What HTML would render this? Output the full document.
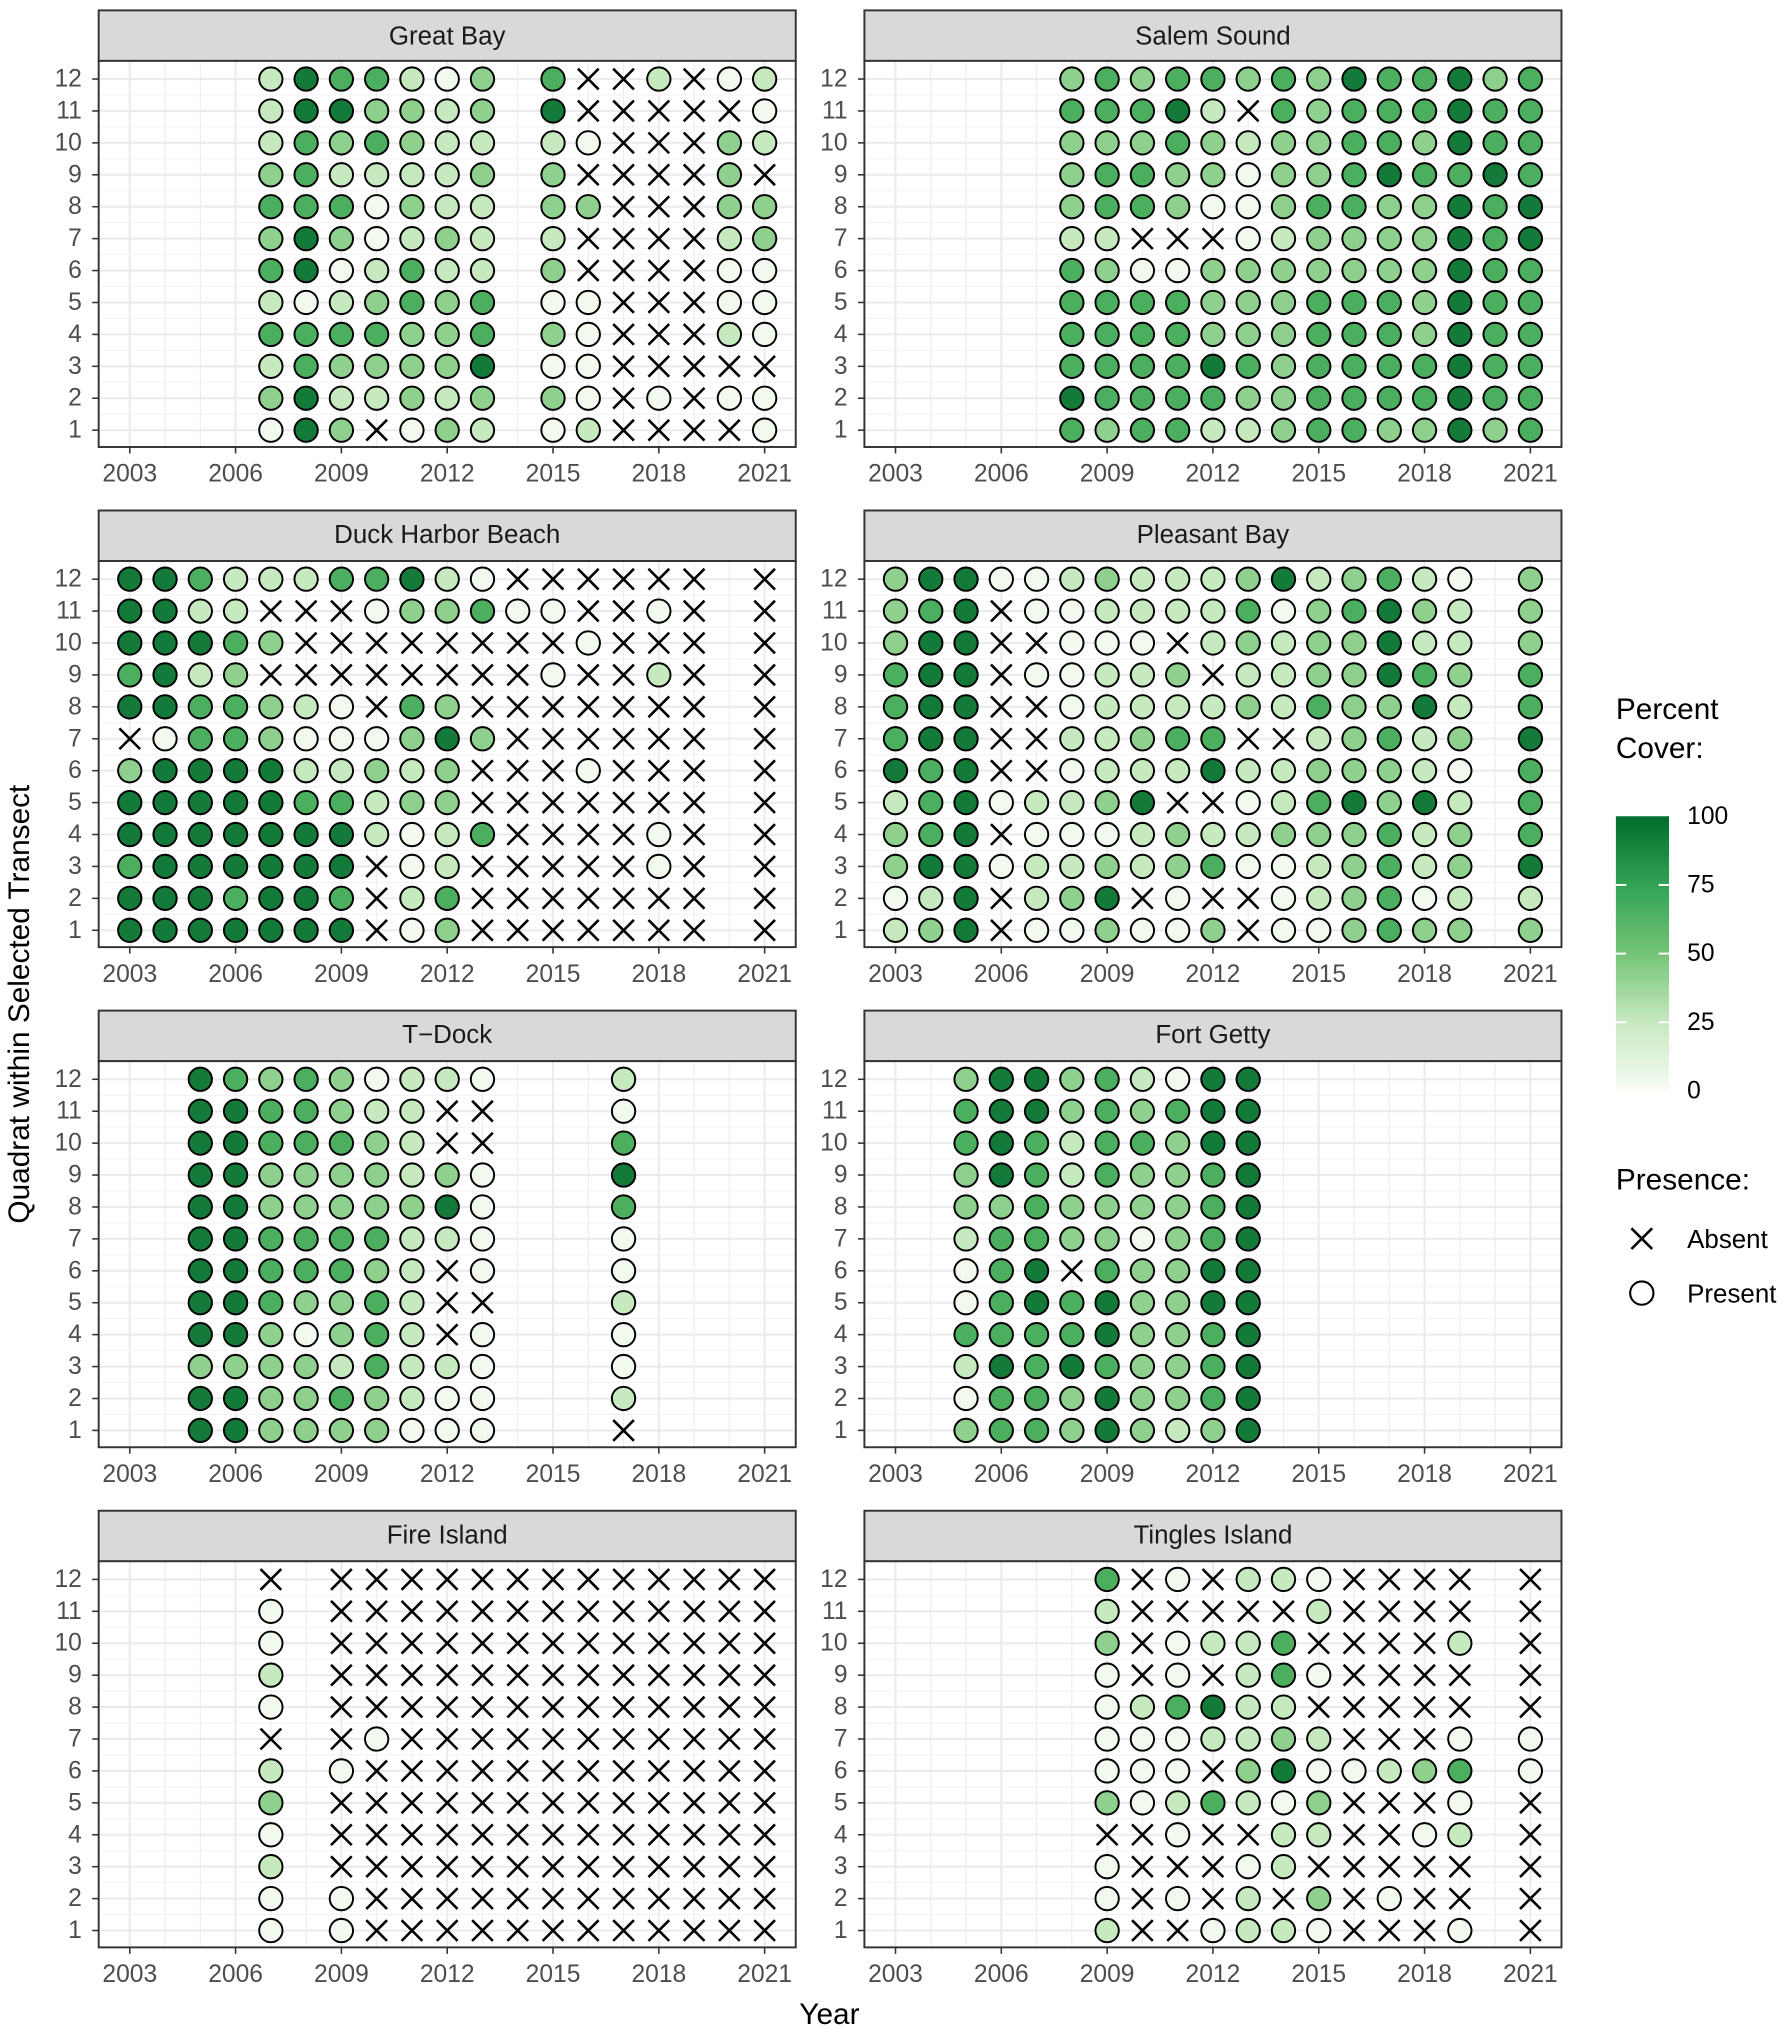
<!DOCTYPE html>
<html><head><meta charset="utf-8"><style>
html,body{margin:0;padding:0;background:#fff;}
svg{display:block;font-family:"Liberation Sans",Arial,sans-serif;}
</style></head><body>
<svg id="s" width="1791" height="2029" viewBox="0 0 1382 1566" xmlns="http://www.w3.org/2000/svg">
<defs><linearGradient id="cb" x1="0" y1="1" x2="0" y2="0">
<stop offset="0" stop-color="#f7fcf5"/><stop offset="0.25" stop-color="#c7e9c0"/><stop offset="0.5" stop-color="#74c476"/><stop offset="0.75" stop-color="#31a354"/><stop offset="1" stop-color="#006d2c"/></linearGradient></defs>
<g id="panels"></g>
<text x="15" y="775" transform="rotate(-90 15 775)" text-anchor="middle" dominant-baseline="central" font-size="23" fill="#000">Quadrat within Selected Transect</text>
<text x="640" y="1562" text-anchor="middle" font-size="23" fill="#000">Year</text>
<text x="1247" y="555" font-size="23" fill="#000">Percent</text>
<text x="1247" y="585" font-size="23" fill="#000">Cover:</text>
<rect x="1247" y="630" width="41" height="212" fill="url(#cb)"/>
<g stroke="#fff" stroke-width="1.5">
<line x1="1247" y1="683" x2="1255" y2="683"/><line x1="1280" y1="683" x2="1288" y2="683"/>
<line x1="1247" y1="736" x2="1255" y2="736"/><line x1="1280" y1="736" x2="1288" y2="736"/>
<line x1="1247" y1="789" x2="1255" y2="789"/><line x1="1280" y1="789" x2="1288" y2="789"/>
</g>
<g font-size="19" fill="#000" dominant-baseline="central">
<text x="1302" y="630">100</text><text x="1302" y="683">75</text><text x="1302" y="736">50</text><text x="1302" y="789">25</text><text x="1302" y="842">0</text>
</g>
<text x="1247" y="918" font-size="23" fill="#000">Presence:</text>
<g stroke="#000" stroke-width="2"><line x1="1259" y1="948" x2="1275" y2="964"/><line x1="1259" y1="964" x2="1275" y2="948"/></g>
<circle cx="1267" cy="998" r="9" fill="none" stroke="#000" stroke-width="1.6"/>
<text x="1302" y="957" font-size="20" fill="#000" dominant-baseline="central">Absent</text>
<text x="1302" y="999" font-size="20" fill="#000" dominant-baseline="central">Present</text>
<g font-size="20" fill="#1a1a1a" text-anchor="middle" dominant-baseline="central">
<text x="345" y="28">Great Bay</text><text x="936" y="28">Salem Sound</text>
<text x="345" y="413">Duck Harbor Beach</text><text x="936" y="413">Pleasant Bay</text>
<text x="345" y="799">T−Dock</text><text x="936" y="799">Fort Getty</text>
<text x="345" y="1185">Fire Island</text><text x="936" y="1185">Tingles Island</text>
</g>
</svg>
<script>
var P=[
[0,0,2007,[
"1433102.3xx1x01","1442212.4xxxxx0","1323211.10xxx21","2311112.2xxxx2x","3330211.22xxx22","2420121.1xxxx12",
"3401311.2xxxx00","1012323.00xxx00","3333223.20xxx10","1322224.00xxxxx","2411212.20x0x00","042x021.01xxxx0"]],
[1,0,2008,["23233232433423","33341x32333433","22232122332433","2332202234334 3".replace(" ",""),"23320023322434","11xxx012222434",
"32002222222433","33332223332433","33332223332433","33334323333433","43333223333433","32331123322423"]],
[0,1,2003,["4431113341 0xxxxxx.x".replace(" ",""),"4411xxx02230 0xx0x.x".replace(" ",""),"44432xxxxxxxx0xxx.x","3412xxxxxxxx0xx1x.x","44332 10x32xxxxxxx.x".replace(" ",""),
"x0332000242xxxxxx.x","2444411212xxx0xxx.x","4444433122xxxxxxx.x","44444441013xxxx0x.x","3444444x01xxxxx0x.x","4443443x13xxxxxxx.x","4444444x02xxxxxxx.x"]],
[1,1,2003,["24400121112412310.2","234x0011113023421.2","244xx000x12122411.2","344x0011 2x11224 32.3".replace(/ /g,""),"344xx0111121322 41.3".replace(/ /g,""),
"344xx112 33xx12312.4".replace(/ /g,""),"434xx0111411222 10.3".replace(/ /g,""),"134011 24xx0134241.3".replace(/ /g,""),"234x0001211222312.3","244011212300123 12.4".replace(/ /g,""),
"014x124x0xx012301.1","124x0020 02x00232 2.2".replace(/ /g,"")]],
[0,2,2005,["432320110...1","443321 1xx...0".replace(" ",""),"4433321xx...3","442222120...4","442222240...3","443333110...0",
"4433321x0...0","4432231xx...1","4420231x0...0","222213110...0","442232100...1","442222000...x"]],
[1,2,2005,["244231044","344232344","343133244","243132234","223222234","133220234","034x32244","034342244","333342234","143432234","033242234","233242124"]],
[0,3,2007,["x.xxxxxxxxxxxxx","0.xxxxxxxxxxxxx","0.xxxxxxxxxxxxx","1.xxxxxxxxxxxxx","0.xxxxxxxxxxxxx","x.x0xxxxxxxxxxx",
"1.0xxxxxxxxxxxx","2.xxxxxxxxxxxxx","0.xxxxxxxxxxxxx","1.xxxxxxxxxxxxx","0.0xxxxxxxxxxxx","0.0xxxxxxxxxxxx"]],
[1,3,2009,["3x0x110xxxx.x","1xxxxx1xxxx.x","2x01 13xxxx1.x".replace(" ",""),"0x0x130xxxx.x","01341 1xxxxx.x".replace(" ",""),"0001121xxx0.0",
"000x24001 23.0".replace(" ",""),"2013102xxx0.x","xx0xx11xx01.x","0xxx01xxxxx.x","0x0x1x2x0xx.x","1xx0110xxx0.x"]]
];
var C=["#f2faef","#c7e9c0","#8fd08e","#4cae5f","#137a3a"];
var ns="http://www.w3.org/2000/svg",g=document.getElementById("panels"),h="";
for(var p=0;p<P.length;p++){
 var col=P[p][0],row=P[p][1],sy=P[p][2],rows=P[p][3];
 var L=col?667:76,R=L+538,T=8+row*386,pt=T+39,pb=pt+298;
 var x0=L+24,dx=490/18,y12=pt+14,dy=271/11;
 h+='<rect x="'+L+'" y="'+T+'" width="538" height="39" fill="#d9d9d9" stroke="#333" stroke-width="1.5"/>';
 h+='<rect x="'+L+'" y="'+pt+'" width="538" height="298" fill="#fff"/>';
 for(var yr=2003;yr<=2021;yr++){var x=x0+(yr-2003)*dx;var mj=(yr-2003)%3==0;
  h+='<line x1="'+x+'" y1="'+pt+'" x2="'+x+'" y2="'+pb+'" stroke="#ebebeb" stroke-width="'+(mj?1.6:0.8)+'"/>';}
 for(var q=1;q<=12;q++){var y=y12+(12-q)*dy;
  h+='<line x1="'+L+'" y1="'+y+'" x2="'+R+'" y2="'+y+'" stroke="#ebebeb" stroke-width="1.6"/>';
  if(q<12)h+='<line x1="'+L+'" y1="'+(y-dy/2)+'" x2="'+R+'" y2="'+(y-dy/2)+'" stroke="#f2f2f2" stroke-width="0.8"/>';
  h+='<text x="'+(L-13)+'" y="'+y+'" text-anchor="end" dominant-baseline="central" font-size="19" fill="#4d4d4d">'+q+'</text>';
  h+='<line x1="'+(L-5)+'" y1="'+y+'" x2="'+L+'" y2="'+y+'" stroke="#333" stroke-width="1.2"/>';}
 for(var r=0;r<12;r++){var s=rows[r],y=y12+r*dy;
  for(var i=0;i<s.length;i++){var c=s[i];if(c=='.')continue;var x=x0+(sy+i-2003)*dx;
   if(c=='x')h+='<path d="M'+(x-8)+' '+(y-8)+'L'+(x+8)+' '+(y+8)+'M'+(x-8)+' '+(y+8)+'L'+(x+8)+' '+(y-8)+'" stroke="#000" stroke-width="2"/>';
   else h+='<circle cx="'+x+'" cy="'+y+'" r="9" fill="'+C[+c]+'" stroke="#000" stroke-width="1.5"/>';}}
 h+='<rect x="'+L+'" y="'+pt+'" width="538" height="298" fill="none" stroke="#333" stroke-width="1.5"/>';
 for(var yr=2003;yr<=2021;yr+=3){var x=x0+(yr-2003)*dx;
  h+='<line x1="'+x+'" y1="'+pb+'" x2="'+x+'" y2="'+(pb+5)+'" stroke="#333" stroke-width="1.2"/>';
  h+='<text x="'+x+'" y="'+(pb+21)+'" text-anchor="middle" dominant-baseline="central" font-size="19" fill="#4d4d4d">'+yr+'</text>';}
}
g.innerHTML=h;
</script>
</body></html>
